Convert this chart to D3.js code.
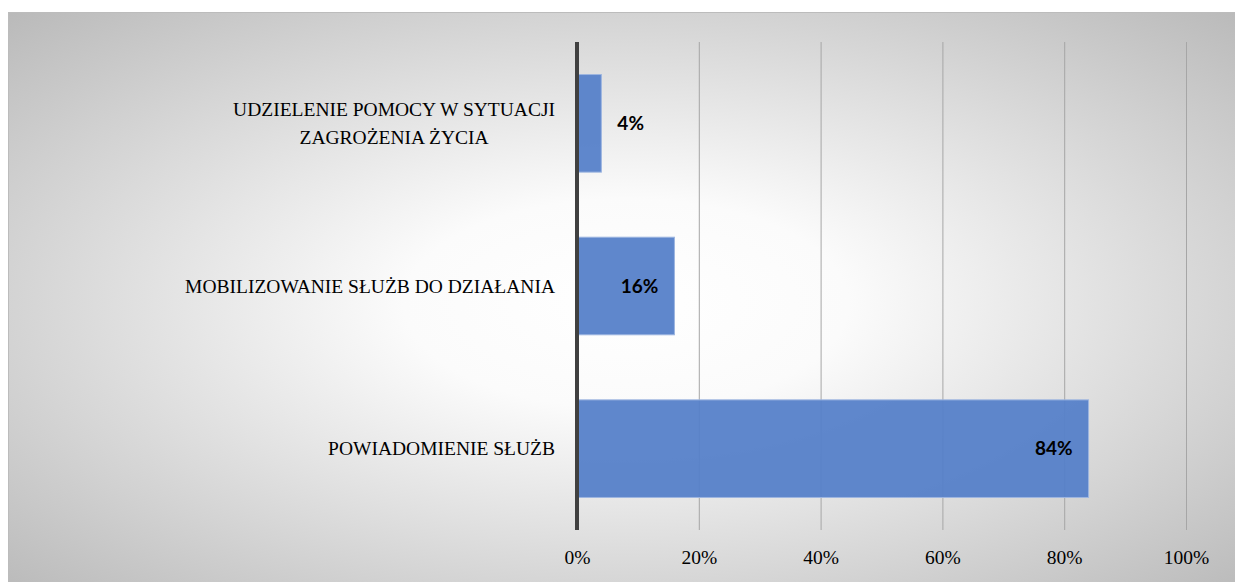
<!DOCTYPE html>
<html>
<head>
<meta charset="utf-8">
<script src="https://cdn.jsdelivr.net/npm/d3@7"></script>
<style>
  html, body { margin: 0; padding: 0; background: #fff; }
  svg { display: block; }
  .serif { font-family: 'Liberation Serif', 'Times New Roman', Times, Tinos, 'DejaVu Serif', 'Noto Serif', FreeSerif, serif; }
</style>
</head>
<body>
<div id="chart"></div>
<script>
// data
const categories = [
  ['UDZIELENIE POMOCY W SYTUACJI', 'ZAGROŻENIA ŻYCIA'],
  ['MOBILIZOWANIE SŁUŻB DO DZIAŁANIA'],
  ['POWIADOMIENIE SŁUŻB']
];
const values = [0.04, 0.16, 0.84];
const valueLabels = ['4%', '16%', '84%'];
const xTicks = [0, 0.2, 0.4, 0.6, 0.8, 1.0];

const W = 1235, H = 582;
const margin = { top: 42, left: 577, right: 49, bottom: 52 };
const width = W - margin.left - margin.right;   // 609
const height = H - margin.top - margin.bottom;  // 488

const svg = d3.select('#chart').append('svg')
  .attr('width', W)
  .attr('height', H);

// background gradient
const defs = svg.append('defs');
const grad = defs.append('radialGradient')
  .attr('id', 'bg')
  .attr('cx', '0.5').attr('cy', '0.5')
  .attr('r', '0.72');
grad.append('stop').attr('offset', '0').attr('stop-color', '#ffffff');
grad.append('stop').attr('offset', '0.25').attr('stop-color', '#fbfbfb');
grad.append('stop').attr('offset', '1').attr('stop-color', '#b8b8b8');

svg.append('rect')
  .attr('x', 8.5).attr('y', 12.5)
  .attr('width', W).attr('height', H)
  .attr('fill', 'url(#bg)')
  .attr('stroke', '#bcbcbc')
  .attr('stroke-width', 1);

const g = svg.append('g')
  .attr('transform', `translate(${margin.left}, ${margin.top})`);

// scales
const xScale = d3.scaleLinear()
  .domain([0, 1])
  .range([0, width]);

const yScale = d3.scaleBand()
  .domain(d3.range(categories.length))
  .range([0, height])
  .paddingInner(0.4)
  .paddingOuter(0.2);

// gridlines + tick labels via axis
const xAxis = d3.axisBottom(xScale)
  .tickValues(xTicks)
  .tickSize(-height)
  .tickFormat(d => `${Math.round(d * 100)}%`);

const xAxisG = g.append('g')
  .attr('transform', `translate(0, ${height})`)
  .call(xAxis);
xAxisG.attr('font-family', null).attr('font-size', null);
xAxisG.select('.domain').remove();
xAxisG.selectAll('.tick line')
  .attr('stroke', '#a6a6a6')
  .attr('stroke-width', 1);
xAxisG.selectAll('.tick text')
  .attr('class', 'serif')
  .style('font-size', '19.5px')
  .attr('fill', '#000')
  .attr('dy', '0.71em')
  .attr('y', 20);

// bars
g.selectAll('rect.bar')
  .data(values)
  .join('rect')
  .attr('class', 'bar')
  .attr('x', xScale(0))
  .attr('y', (d, i) => yScale(i))
  .attr('width', d => xScale(d) - xScale(0))
  .attr('height', yScale.bandwidth())
  .attr('fill', '#5580c9')
  .attr('fill-opacity', 0.94)
  .attr('stroke', '#9db5e0')
  .attr('stroke-width', 1);

// value labels
g.selectAll('text.val')
  .data(values)
  .join('text')
  .attr('class', 'val')
  .attr('x', d => {
    const end = xScale(d);
    return end > 60 ? end - 16 : end + 16;
  })
  .attr('y', (d, i) => yScale(i) + yScale.bandwidth() / 2)
  .attr('dy', '0.35em')
  .attr('text-anchor', d => xScale(d) > 60 ? 'end' : 'start')
  .style('font-family', "Lato, 'Open Sans', sans-serif")
  .style('font-weight', 'bold')
  .style('font-size', '19px')
  .attr('fill', '#000')
  .text((d, i) => valueLabels[i]);

// y axis line
g.append('line')
  .attr('x1', 0).attr('x2', 0)
  .attr('y1', 0).attr('y2', height)
  .attr('stroke', '#404040')
  .attr('stroke-width', 4);

// category labels
const lineH = 28;
const labelRight = -22;
categories.forEach((lines, i) => {
  const cy = yScale(i) + yScale.bandwidth() / 2;
  const t = g.append('text')
    .attr('class', 'serif')
    .style('font-size', '19.5px')
    .attr('fill', '#000');
  const spans = lines.map((s, j) => t.append('tspan')
    .attr('y', cy + (j - (lines.length - 1) / 2) * lineH)
    .attr('dy', '0.35em')
    .text(s));
  // centre the lines inside a right-aligned block
  const widths = spans.map(s => s.node().getComputedTextLength());
  const blockW = d3.max(widths);
  spans.forEach((s, j) => {
    s.attr('x', labelRight - blockW + (blockW - widths[j]) / 2);
  });
});
</script>
</body>
</html>
